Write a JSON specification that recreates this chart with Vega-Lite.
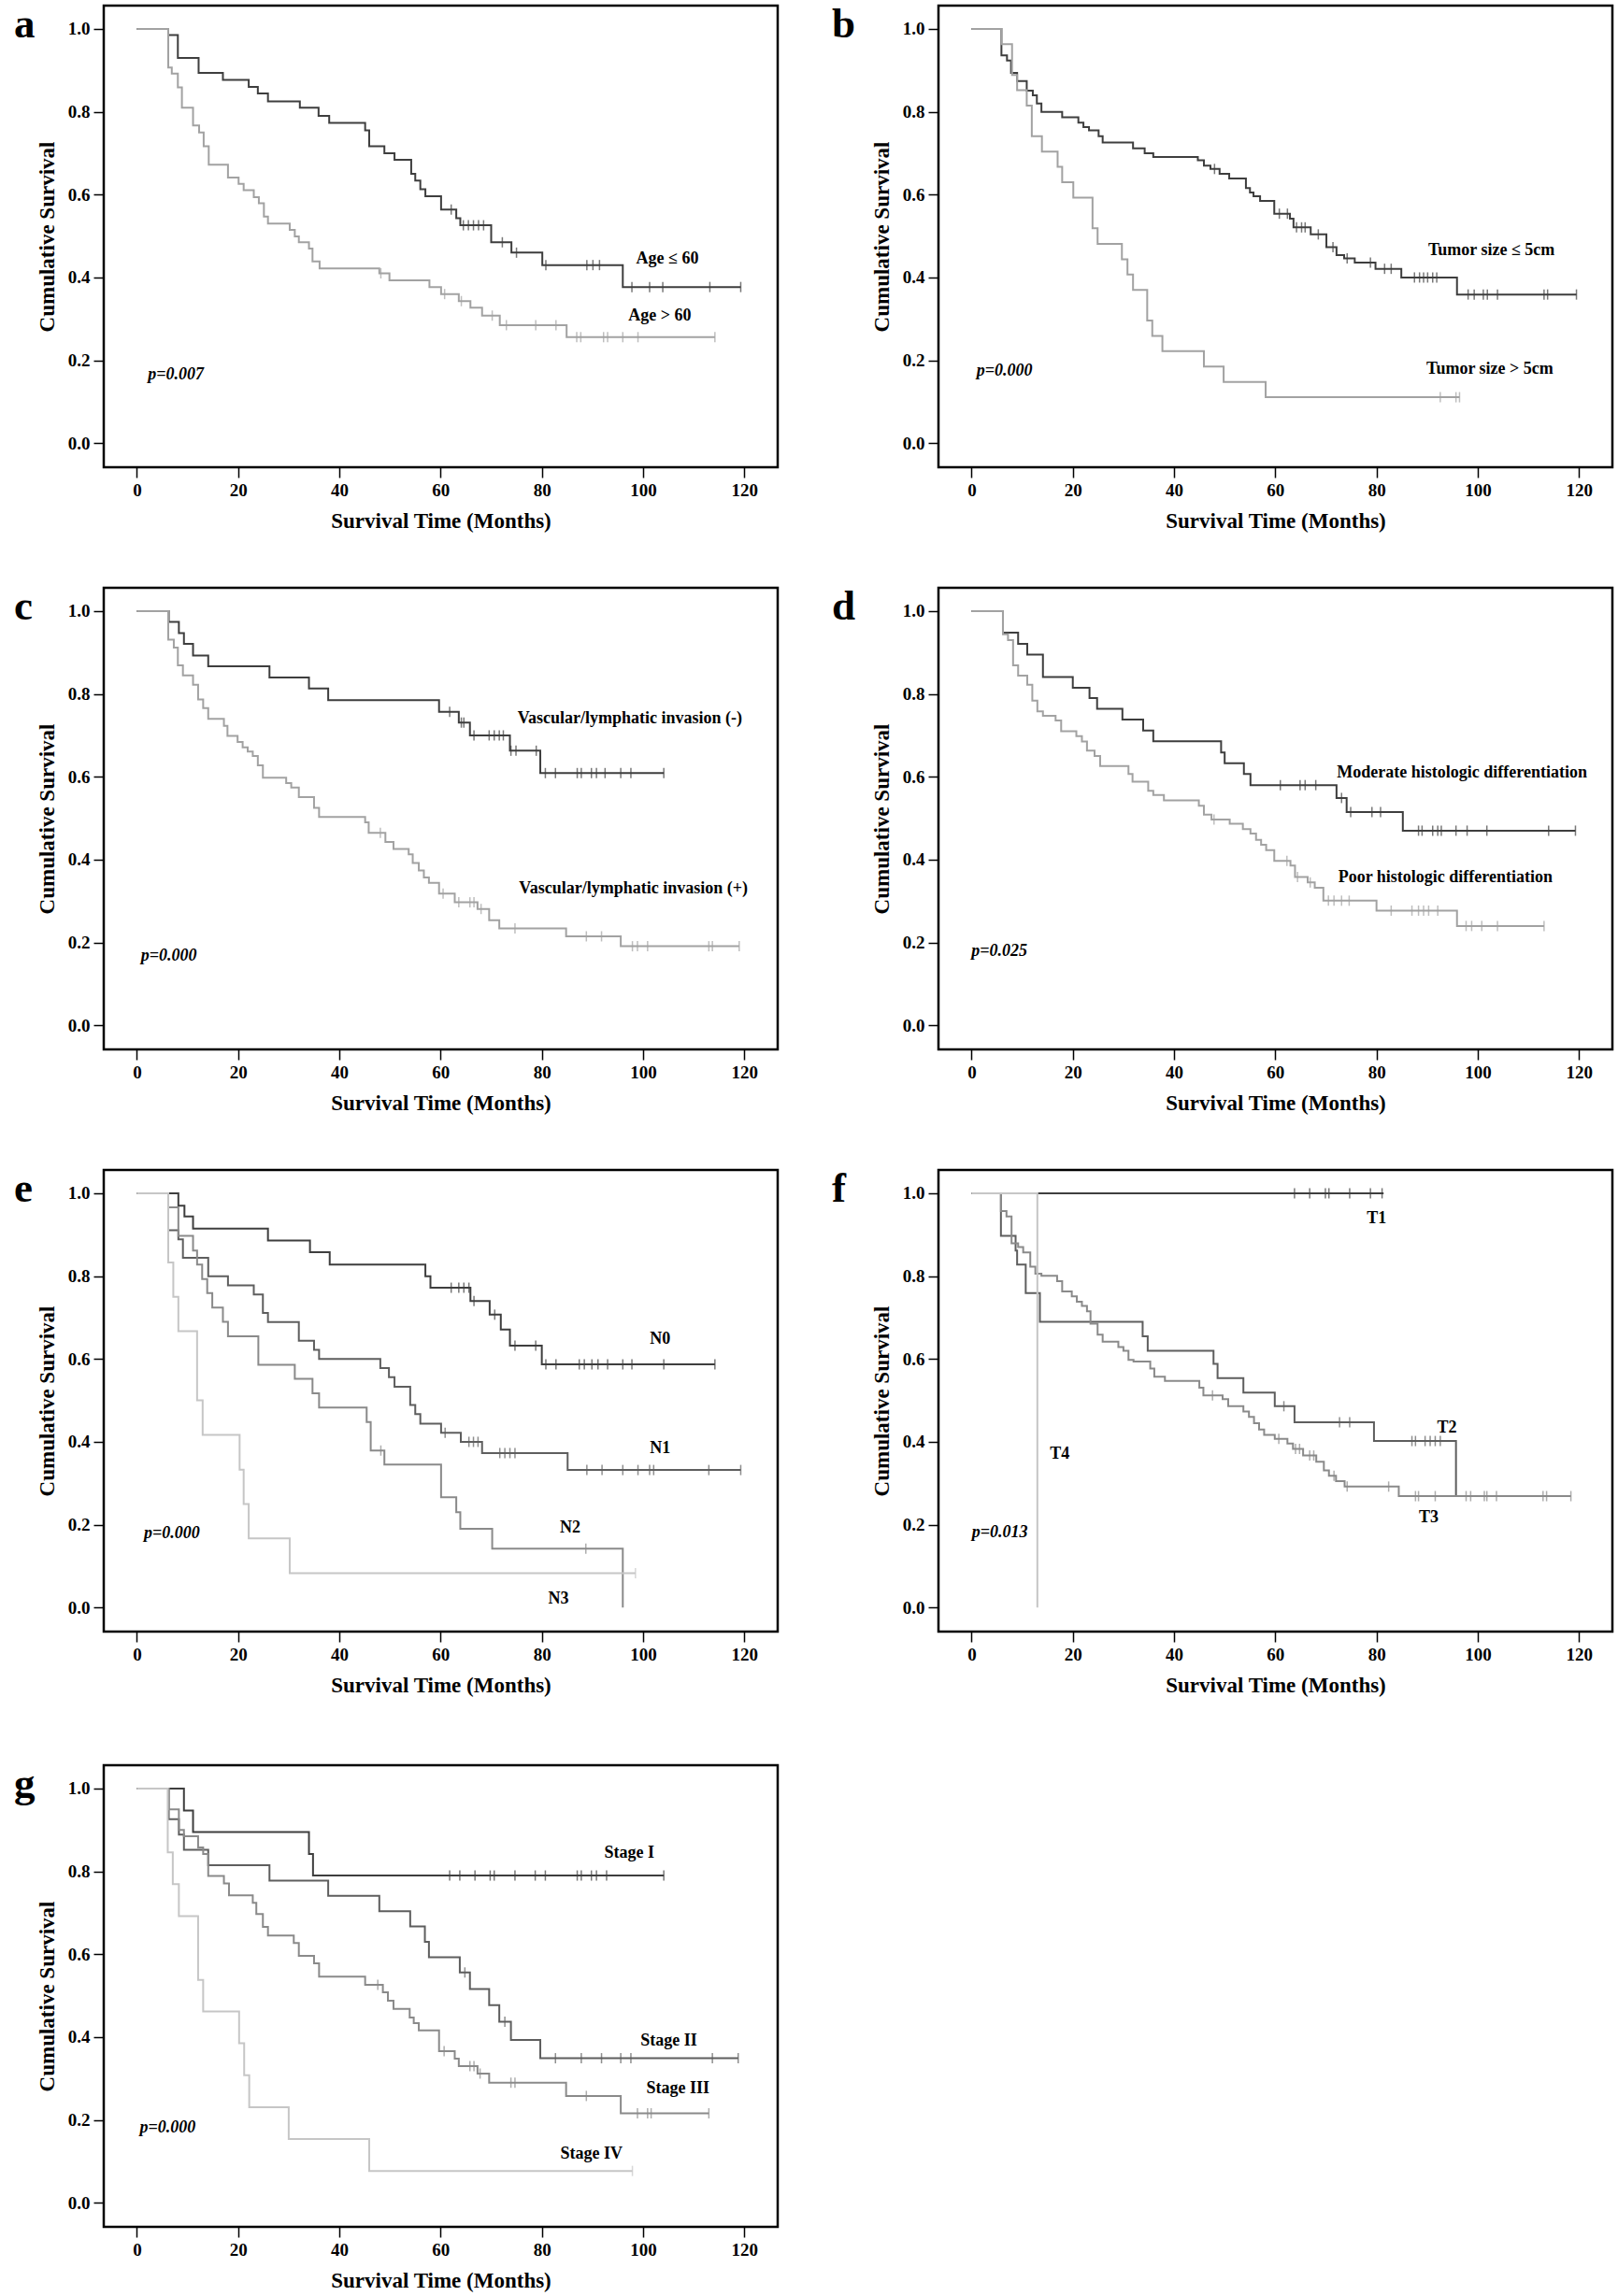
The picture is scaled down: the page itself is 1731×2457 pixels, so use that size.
{
"$schema": "https://vega.github.io/schema/vega-lite/v6.json",
"padding": {"left": 13, "top": 2, "right": 5, "bottom": 0},
"background": "white",
"datasets": {
"curves": [
{"g":"a1","t":0,"s":1},{"g":"a1","t":6.2,"s":0.985},{"g":"a1","t":8.1,"s":0.93},{"g":"a1","t":12.2,"s":0.894},{"g":"a1","t":17,"s":0.877},{"g":"a1","t":22.1,"s":0.86},{"g":"a1","t":23.9,"s":0.844},{"g":"a1","t":25.9,"s":0.825},{"g":"a1","t":32.2,"s":0.81},{"g":"a1","t":35.9,"s":0.79},{"g":"a1","t":38,"s":0.773},{"g":"a1","t":45.1,"s":0.755},{"g":"a1","t":45.9,"s":0.717},{"g":"a1","t":48.9,"s":0.7},{"g":"a1","t":50.9,"s":0.684},{"g":"a1","t":54.2,"s":0.65},{"g":"a1","t":55,"s":0.634},{"g":"a1","t":56,"s":0.613},{"g":"a1","t":57,"s":0.596},{"g":"a1","t":60.1,"s":0.564},{"g":"a1","t":63.1,"s":0.543},{"g":"a1","t":63.9,"s":0.526},{"g":"a1","t":70,"s":0.485},{"g":"a1","t":74,"s":0.46},{"g":"a1","t":80.1,"s":0.43},{"g":"a1","t":96,"s":0.377},{"g":"a1","t":119.3,"s":0.377},
{"g":"a2","t":0,"s":1},{"g":"a2","t":6.2,"s":0.907},{"g":"a2","t":6.9,"s":0.892},{"g":"a2","t":8.1,"s":0.859},{"g":"a2","t":8.9,"s":0.81},{"g":"a2","t":11.1,"s":0.767},{"g":"a2","t":12.3,"s":0.75},{"g":"a2","t":13.2,"s":0.717},{"g":"a2","t":14.2,"s":0.672},{"g":"a2","t":18,"s":0.641},{"g":"a2","t":20.1,"s":0.626},{"g":"a2","t":21.1,"s":0.611},{"g":"a2","t":23.1,"s":0.594},{"g":"a2","t":24.1,"s":0.579},{"g":"a2","t":25.1,"s":0.547},{"g":"a2","t":25.9,"s":0.53},{"g":"a2","t":30.2,"s":0.515},{"g":"a2","t":31.2,"s":0.499},{"g":"a2","t":32,"s":0.485},{"g":"a2","t":34,"s":0.47},{"g":"a2","t":34.7,"s":0.439},{"g":"a2","t":36.1,"s":0.422},{"g":"a2","t":47.9,"s":0.41},{"g":"a2","t":49.9,"s":0.393},{"g":"a2","t":57.8,"s":0.377},{"g":"a2","t":60.1,"s":0.36},{"g":"a2","t":63.6,"s":0.343},{"g":"a2","t":65.9,"s":0.327},{"g":"a2","t":68.2,"s":0.308},{"g":"a2","t":71.7,"s":0.285},{"g":"a2","t":84.9,"s":0.256},{"g":"a2","t":114.2,"s":0.256},
{"g":"b1","t":0,"s":1},{"g":"b1","t":5.9,"s":0.936},{"g":"b1","t":7,"s":0.924},{"g":"b1","t":7.8,"s":0.894},{"g":"b1","t":9,"s":0.874},{"g":"b1","t":10.9,"s":0.851},{"g":"b1","t":12.1,"s":0.84},{"g":"b1","t":12.9,"s":0.82},{"g":"b1","t":13.8,"s":0.8},{"g":"b1","t":17.9,"s":0.787},{"g":"b1","t":21.1,"s":0.774},{"g":"b1","t":22.1,"s":0.763},{"g":"b1","t":23.2,"s":0.755},{"g":"b1","t":25.1,"s":0.741},{"g":"b1","t":25.9,"s":0.726},{"g":"b1","t":31.9,"s":0.712},{"g":"b1","t":34.2,"s":0.7},{"g":"b1","t":35.9,"s":0.691},{"g":"b1","t":44.7,"s":0.683},{"g":"b1","t":45.9,"s":0.67},{"g":"b1","t":47.2,"s":0.662},{"g":"b1","t":49,"s":0.65},{"g":"b1","t":50.9,"s":0.639},{"g":"b1","t":54.2,"s":0.616},{"g":"b1","t":55,"s":0.605},{"g":"b1","t":55.7,"s":0.596},{"g":"b1","t":57,"s":0.585},{"g":"b1","t":59.8,"s":0.554},{"g":"b1","t":62.9,"s":0.542},{"g":"b1","t":63.6,"s":0.521},{"g":"b1","t":67,"s":0.504},{"g":"b1","t":70.1,"s":0.473},{"g":"b1","t":72.1,"s":0.454},{"g":"b1","t":73.6,"s":0.446},{"g":"b1","t":75.7,"s":0.436},{"g":"b1","t":79.8,"s":0.421},{"g":"b1","t":84.9,"s":0.4},{"g":"b1","t":95.9,"s":0.359},{"g":"b1","t":119.5,"s":0.359},
{"g":"b2","t":0,"s":1},{"g":"b2","t":5.9,"s":0.963},{"g":"b2","t":8,"s":0.889},{"g":"b2","t":9,"s":0.852},{"g":"b2","t":10.9,"s":0.815},{"g":"b2","t":11.9,"s":0.741},{"g":"b2","t":13.9,"s":0.704},{"g":"b2","t":17,"s":0.667},{"g":"b2","t":17.9,"s":0.63},{"g":"b2","t":20.1,"s":0.593},{"g":"b2","t":23.9,"s":0.519},{"g":"b2","t":24.9,"s":0.481},{"g":"b2","t":29.7,"s":0.444},{"g":"b2","t":30.8,"s":0.407},{"g":"b2","t":31.9,"s":0.37},{"g":"b2","t":34.7,"s":0.296},{"g":"b2","t":35.7,"s":0.259},{"g":"b2","t":37.7,"s":0.222},{"g":"b2","t":45.9,"s":0.185},{"g":"b2","t":49.8,"s":0.148},{"g":"b2","t":58.1,"s":0.111},{"g":"b2","t":96.4,"s":0.111},
{"g":"c1","t":0,"s":1},{"g":"c1","t":6.3,"s":0.974},{"g":"c1","t":8.3,"s":0.947},{"g":"c1","t":9.3,"s":0.921},{"g":"c1","t":11.1,"s":0.893},{"g":"c1","t":14.1,"s":0.867},{"g":"c1","t":26.2,"s":0.84},{"g":"c1","t":34,"s":0.813},{"g":"c1","t":37.8,"s":0.785},{"g":"c1","t":59.7,"s":0.757},{"g":"c1","t":63.6,"s":0.731},{"g":"c1","t":65.8,"s":0.7},{"g":"c1","t":73.7,"s":0.663},{"g":"c1","t":79.7,"s":0.609},{"g":"c1","t":104.1,"s":0.609},
{"g":"c2","t":0,"s":1},{"g":"c2","t":6.2,"s":0.931},{"g":"c2","t":7.3,"s":0.912},{"g":"c2","t":8.1,"s":0.869},{"g":"c2","t":9.1,"s":0.845},{"g":"c2","t":11.1,"s":0.822},{"g":"c2","t":12.1,"s":0.787},{"g":"c2","t":13.1,"s":0.766},{"g":"c2","t":14.1,"s":0.74},{"g":"c2","t":17.2,"s":0.723},{"g":"c2","t":17.9,"s":0.699},{"g":"c2","t":19.9,"s":0.684},{"g":"c2","t":20.9,"s":0.671},{"g":"c2","t":21.9,"s":0.661},{"g":"c2","t":22.9,"s":0.65},{"g":"c2","t":23.9,"s":0.628},{"g":"c2","t":24.9,"s":0.598},{"g":"c2","t":29.5,"s":0.585},{"g":"c2","t":30.5,"s":0.574},{"g":"c2","t":32,"s":0.551},{"g":"c2","t":35,"s":0.525},{"g":"c2","t":36,"s":0.503},{"g":"c2","t":45.1,"s":0.49},{"g":"c2","t":45.8,"s":0.465},{"g":"c2","t":49.1,"s":0.443},{"g":"c2","t":50.7,"s":0.426},{"g":"c2","t":53.7,"s":0.413},{"g":"c2","t":54.5,"s":0.392},{"g":"c2","t":55.7,"s":0.374},{"g":"c2","t":56.7,"s":0.357},{"g":"c2","t":57.7,"s":0.344},{"g":"c2","t":59.7,"s":0.318},{"g":"c2","t":62.8,"s":0.297},{"g":"c2","t":67.3,"s":0.281},{"g":"c2","t":69.6,"s":0.254},{"g":"c2","t":71.6,"s":0.234},{"g":"c2","t":84.8,"s":0.215},{"g":"c2","t":95.6,"s":0.191},{"g":"c2","t":119,"s":0.191},
{"g":"d1","t":0,"s":1},{"g":"d1","t":6.2,"s":0.948},{"g":"d1","t":9.2,"s":0.921},{"g":"d1","t":11,"s":0.895},{"g":"d1","t":14.1,"s":0.841},{"g":"d1","t":20,"s":0.815},{"g":"d1","t":23.3,"s":0.79},{"g":"d1","t":24.8,"s":0.764},{"g":"d1","t":29.8,"s":0.738},{"g":"d1","t":33.9,"s":0.712},{"g":"d1","t":35.9,"s":0.686},{"g":"d1","t":49.3,"s":0.659},{"g":"d1","t":50,"s":0.633},{"g":"d1","t":53.8,"s":0.607},{"g":"d1","t":55.1,"s":0.58},{"g":"d1","t":72.1,"s":0.549},{"g":"d1","t":74.1,"s":0.515},{"g":"d1","t":85.2,"s":0.47},{"g":"d1","t":119.3,"s":0.47},
{"g":"d2","t":0,"s":1},{"g":"d2","t":6.2,"s":0.944},{"g":"d2","t":7.2,"s":0.93},{"g":"d2","t":8.2,"s":0.869},{"g":"d2","t":9.2,"s":0.844},{"g":"d2","t":11,"s":0.822},{"g":"d2","t":12,"s":0.784},{"g":"d2","t":13,"s":0.758},{"g":"d2","t":14.1,"s":0.747},{"g":"d2","t":16.6,"s":0.736},{"g":"d2","t":17.7,"s":0.71},{"g":"d2","t":20.7,"s":0.698},{"g":"d2","t":21.8,"s":0.685},{"g":"d2","t":22.8,"s":0.663},{"g":"d2","t":24.3,"s":0.65},{"g":"d2","t":25.4,"s":0.626},{"g":"d2","t":31,"s":0.607},{"g":"d2","t":31.8,"s":0.588},{"g":"d2","t":34.9,"s":0.566},{"g":"d2","t":35.9,"s":0.556},{"g":"d2","t":38,"s":0.543},{"g":"d2","t":44.9,"s":0.53},{"g":"d2","t":45.9,"s":0.509},{"g":"d2","t":47.4,"s":0.497},{"g":"d2","t":51,"s":0.487},{"g":"d2","t":53.6,"s":0.474},{"g":"d2","t":55.1,"s":0.463},{"g":"d2","t":56.2,"s":0.448},{"g":"d2","t":57.2,"s":0.436},{"g":"d2","t":58.2,"s":0.423},{"g":"d2","t":59.8,"s":0.397},{"g":"d2","t":63,"s":0.386},{"g":"d2","t":63.9,"s":0.358},{"g":"d2","t":66.4,"s":0.345},{"g":"d2","t":67.8,"s":0.332},{"g":"d2","t":69.5,"s":0.301},{"g":"d2","t":80,"s":0.277},{"g":"d2","t":95.9,"s":0.24},{"g":"d2","t":113.1,"s":0.24},
{"g":"e1","t":0,"s":1},{"g":"e1","t":8.2,"s":0.97},{"g":"e1","t":9.4,"s":0.944},{"g":"e1","t":11.1,"s":0.915},{"g":"e1","t":25.9,"s":0.886},{"g":"e1","t":34.2,"s":0.858},{"g":"e1","t":38.1,"s":0.828},{"g":"e1","t":57,"s":0.8},{"g":"e1","t":58,"s":0.772},{"g":"e1","t":65.9,"s":0.74},{"g":"e1","t":69.7,"s":0.707},{"g":"e1","t":71.9,"s":0.671},{"g":"e1","t":73.7,"s":0.632},{"g":"e1","t":80,"s":0.587},{"g":"e1","t":114.2,"s":0.587},
{"g":"e2","t":0,"s":1},{"g":"e2","t":6.2,"s":0.911},{"g":"e2","t":8.2,"s":0.889},{"g":"e2","t":9.1,"s":0.844},{"g":"e2","t":14.1,"s":0.8},{"g":"e2","t":18,"s":0.778},{"g":"e2","t":23.1,"s":0.756},{"g":"e2","t":24.9,"s":0.711},{"g":"e2","t":25.9,"s":0.689},{"g":"e2","t":32,"s":0.644},{"g":"e2","t":35,"s":0.622},{"g":"e2","t":36,"s":0.6},{"g":"e2","t":48.1,"s":0.578},{"g":"e2","t":49.8,"s":0.556},{"g":"e2","t":50.9,"s":0.533},{"g":"e2","t":54,"s":0.489},{"g":"e2","t":55,"s":0.467},{"g":"e2","t":56,"s":0.444},{"g":"e2","t":60.1,"s":0.422},{"g":"e2","t":64,"s":0.4},{"g":"e2","t":68.2,"s":0.373},{"g":"e2","t":85.1,"s":0.332},{"g":"e2","t":119.3,"s":0.332},
{"g":"e3","t":0,"s":1},{"g":"e3","t":6.2,"s":0.966},{"g":"e3","t":8.2,"s":0.897},{"g":"e3","t":11.1,"s":0.862},{"g":"e3","t":11.9,"s":0.828},{"g":"e3","t":12.9,"s":0.793},{"g":"e3","t":13.9,"s":0.759},{"g":"e3","t":14.9,"s":0.724},{"g":"e3","t":17,"s":0.69},{"g":"e3","t":18,"s":0.655},{"g":"e3","t":24,"s":0.586},{"g":"e3","t":31.2,"s":0.552},{"g":"e3","t":34.7,"s":0.517},{"g":"e3","t":36,"s":0.483},{"g":"e3","t":45.4,"s":0.448},{"g":"e3","t":46.2,"s":0.379},{"g":"e3","t":48.9,"s":0.345},{"g":"e3","t":60.1,"s":0.266},{"g":"e3","t":63.1,"s":0.23},{"g":"e3","t":63.9,"s":0.19},{"g":"e3","t":70.2,"s":0.142},{"g":"e3","t":96,"s":0},
{"g":"e4","t":0,"s":1},{"g":"e4","t":6.2,"s":0.833},{"g":"e4","t":7.2,"s":0.75},{"g":"e4","t":8.2,"s":0.667},{"g":"e4","t":11.9,"s":0.5},{"g":"e4","t":13,"s":0.417},{"g":"e4","t":20.3,"s":0.333},{"g":"e4","t":21.1,"s":0.25},{"g":"e4","t":22.1,"s":0.167},{"g":"e4","t":30.2,"s":0.083},{"g":"e4","t":98.5,"s":0.083},
{"g":"f1","t":0,"s":1},{"g":"f1","t":81.4,"s":1},
{"g":"f2","t":0,"s":1},{"g":"f2","t":5.8,"s":0.897},{"g":"f2","t":8.7,"s":0.862},{"g":"f2","t":9,"s":0.828},{"g":"f2","t":10.7,"s":0.759},{"g":"f2","t":13.5,"s":0.69},{"g":"f2","t":33.8,"s":0.655},{"g":"f2","t":34.8,"s":0.62},{"g":"f2","t":47.8,"s":0.588},{"g":"f2","t":48.6,"s":0.554},{"g":"f2","t":53.7,"s":0.519},{"g":"f2","t":59.9,"s":0.486},{"g":"f2","t":63.8,"s":0.447},{"g":"f2","t":79.5,"s":0.402},{"g":"f2","t":95.7,"s":0.268},
{"g":"f3","t":0,"s":1},{"g":"f3","t":5.8,"s":0.957},{"g":"f3","t":6.9,"s":0.944},{"g":"f3","t":7.9,"s":0.879},{"g":"f3","t":9.2,"s":0.87},{"g":"f3","t":10.2,"s":0.857},{"g":"f3","t":11.6,"s":0.823},{"g":"f3","t":12.6,"s":0.806},{"g":"f3","t":13.8,"s":0.801},{"g":"f3","t":16.9,"s":0.788},{"g":"f3","t":17.9,"s":0.763},{"g":"f3","t":19.8,"s":0.751},{"g":"f3","t":20.8,"s":0.738},{"g":"f3","t":21.8,"s":0.728},{"g":"f3","t":22.8,"s":0.715},{"g":"f3","t":23.5,"s":0.685},{"g":"f3","t":24.9,"s":0.659},{"g":"f3","t":25.9,"s":0.642},{"g":"f3","t":29,"s":0.629},{"g":"f3","t":30,"s":0.62},{"g":"f3","t":31,"s":0.598},{"g":"f3","t":32,"s":0.594},{"g":"f3","t":35.3,"s":0.577},{"g":"f3","t":36.1,"s":0.557},{"g":"f3","t":38.2,"s":0.547},{"g":"f3","t":45,"s":0.531},{"g":"f3","t":45.8,"s":0.512},{"g":"f3","t":49.6,"s":0.503},{"g":"f3","t":50.7,"s":0.486},{"g":"f3","t":53.7,"s":0.473},{"g":"f3","t":54.8,"s":0.46},{"g":"f3","t":55.8,"s":0.445},{"g":"f3","t":56.8,"s":0.43},{"g":"f3","t":57.8,"s":0.417},{"g":"f3","t":59.9,"s":0.407},{"g":"f3","t":62.4,"s":0.396},{"g":"f3","t":63.5,"s":0.383},{"g":"f3","t":65.5,"s":0.367},{"g":"f3","t":68.1,"s":0.352},{"g":"f3","t":69.6,"s":0.331},{"g":"f3","t":70.6,"s":0.318},{"g":"f3","t":72,"s":0.305},{"g":"f3","t":73.7,"s":0.292},{"g":"f3","t":84.4,"s":0.269},{"g":"f3","t":118.4,"s":0.269},
{"g":"f4","t":0,"s":1},{"g":"f4","t":13,"s":0},
{"g":"g1","t":0,"s":1},{"g":"g1","t":9.3,"s":0.947},{"g":"g1","t":11.1,"s":0.895},{"g":"g1","t":34,"s":0.842},{"g":"g1","t":34.8,"s":0.79},{"g":"g1","t":104.1,"s":0.79},
{"g":"g2","t":0,"s":1},{"g":"g2","t":6.3,"s":0.926},{"g":"g2","t":8.3,"s":0.889},{"g":"g2","t":9.3,"s":0.852},{"g":"g2","t":14.1,"s":0.815},{"g":"g2","t":26.2,"s":0.778},{"g":"g2","t":37.8,"s":0.741},{"g":"g2","t":47.9,"s":0.704},{"g":"g2","t":54,"s":0.667},{"g":"g2","t":56.9,"s":0.63},{"g":"g2","t":57.7,"s":0.593},{"g":"g2","t":63.8,"s":0.556},{"g":"g2","t":65.8,"s":0.516},{"g":"g2","t":69.6,"s":0.477},{"g":"g2","t":71.6,"s":0.437},{"g":"g2","t":73.9,"s":0.393},{"g":"g2","t":79.7,"s":0.349},{"g":"g2","t":118.8,"s":0.349},
{"g":"g3","t":0,"s":1},{"g":"g3","t":6.3,"s":0.95},{"g":"g3","t":8.3,"s":0.9},{"g":"g3","t":9.3,"s":0.885},{"g":"g3","t":12.1,"s":0.858},{"g":"g3","t":13.1,"s":0.842},{"g":"g3","t":14.1,"s":0.789},{"g":"g3","t":17.2,"s":0.771},{"g":"g3","t":18.2,"s":0.742},{"g":"g3","t":22.9,"s":0.724},{"g":"g3","t":23.6,"s":0.697},{"g":"g3","t":24.9,"s":0.666},{"g":"g3","t":25.9,"s":0.645},{"g":"g3","t":31,"s":0.627},{"g":"g3","t":32,"s":0.596},{"g":"g3","t":35,"s":0.578},{"g":"g3","t":36,"s":0.546},{"g":"g3","t":45.1,"s":0.526},{"g":"g3","t":48.6,"s":0.508},{"g":"g3","t":49.6,"s":0.488},{"g":"g3","t":50.7,"s":0.468},{"g":"g3","t":53.9,"s":0.447},{"g":"g3","t":54.7,"s":0.434},{"g":"g3","t":55.7,"s":0.416},{"g":"g3","t":59.7,"s":0.366},{"g":"g3","t":62.8,"s":0.348},{"g":"g3","t":63.6,"s":0.33},{"g":"g3","t":67.3,"s":0.312},{"g":"g3","t":69.6,"s":0.29},{"g":"g3","t":84.8,"s":0.258},{"g":"g3","t":95.6,"s":0.216},{"g":"g3","t":113,"s":0.216},
{"g":"g4","t":0,"s":1},{"g":"g4","t":6.1,"s":0.846},{"g":"g4","t":7.1,"s":0.769},{"g":"g4","t":8.3,"s":0.692},{"g":"g4","t":12.1,"s":0.538},{"g":"g4","t":13.1,"s":0.462},{"g":"g4","t":20.2,"s":0.385},{"g":"g4","t":21.2,"s":0.308},{"g":"g4","t":22.2,"s":0.231},{"g":"g4","t":30,"s":0.154},{"g":"g4","t":45.9,"s":0.077},{"g":"g4","t":97.9,"s":0.077}
],
"cens": [
{"g":"a1","t":62.1,"s":0.564},{"g":"a1","t":64.5,"s":0.526},{"g":"a1","t":65.5,"s":0.526},{"g":"a1","t":66.5,"s":0.526},{"g":"a1","t":67.5,"s":0.526},{"g":"a1","t":68.5,"s":0.526},{"g":"a1","t":72.2,"s":0.485},{"g":"a1","t":75,"s":0.46},{"g":"a1","t":80.8,"s":0.43},{"g":"a1","t":88.9,"s":0.43},{"g":"a1","t":90.1,"s":0.43},{"g":"a1","t":91.4,"s":0.43},{"g":"a1","t":97.8,"s":0.377},{"g":"a1","t":101.3,"s":0.377},{"g":"a1","t":103.9,"s":0.377},{"g":"a1","t":113.2,"s":0.377},{"g":"a1","t":119.3,"s":0.377},
{"g":"a2","t":48.2,"s":0.41},{"g":"a2","t":60.8,"s":0.36},{"g":"a2","t":64.1,"s":0.343},{"g":"a2","t":70.2,"s":0.308},{"g":"a2","t":73,"s":0.285},{"g":"a2","t":78.8,"s":0.285},{"g":"a2","t":82.8,"s":0.285},{"g":"a2","t":86.9,"s":0.256},{"g":"a2","t":87.7,"s":0.256},{"g":"a2","t":92.2,"s":0.256},{"g":"a2","t":93,"s":0.256},{"g":"a2","t":96,"s":0.256},{"g":"a2","t":99,"s":0.256},{"g":"a2","t":114.2,"s":0.256},
{"g":"b1","t":48,"s":0.662},{"g":"b1","t":60.8,"s":0.554},{"g":"b1","t":62.4,"s":0.554},{"g":"b1","t":64.2,"s":0.521},{"g":"b1","t":65.2,"s":0.521},{"g":"b1","t":65.9,"s":0.521},{"g":"b1","t":68.5,"s":0.504},{"g":"b1","t":71.4,"s":0.473},{"g":"b1","t":74.2,"s":0.446},{"g":"b1","t":78.8,"s":0.436},{"g":"b1","t":81.6,"s":0.421},{"g":"b1","t":82.9,"s":0.421},{"g":"b1","t":87.5,"s":0.4},{"g":"b1","t":88.5,"s":0.4},{"g":"b1","t":89.3,"s":0.4},{"g":"b1","t":90.1,"s":0.4},{"g":"b1","t":91.1,"s":0.4},{"g":"b1","t":91.9,"s":0.4},{"g":"b1","t":98.1,"s":0.359},{"g":"b1","t":99.3,"s":0.359},{"g":"b1","t":101.1,"s":0.359},{"g":"b1","t":101.9,"s":0.359},{"g":"b1","t":103.9,"s":0.359},{"g":"b1","t":113.1,"s":0.359},{"g":"b1","t":113.8,"s":0.359},{"g":"b1","t":119.5,"s":0.359},
{"g":"b2","t":92.6,"s":0.111},{"g":"b2","t":95.7,"s":0.111},{"g":"b2","t":96.4,"s":0.111},
{"g":"c1","t":61.8,"s":0.757},{"g":"c1","t":64.1,"s":0.731},{"g":"c1","t":64.6,"s":0.731},{"g":"c1","t":66.6,"s":0.7},{"g":"c1","t":69.6,"s":0.7},{"g":"c1","t":70.6,"s":0.7},{"g":"c1","t":71.6,"s":0.7},{"g":"c1","t":72.4,"s":0.7},{"g":"c1","t":73.9,"s":0.663},{"g":"c1","t":74.9,"s":0.663},{"g":"c1","t":78.9,"s":0.663},{"g":"c1","t":80.7,"s":0.609},{"g":"c1","t":82.7,"s":0.609},{"g":"c1","t":87,"s":0.609},{"g":"c1","t":87.8,"s":0.609},{"g":"c1","t":89.8,"s":0.609},{"g":"c1","t":90.8,"s":0.609},{"g":"c1","t":92.5,"s":0.609},{"g":"c1","t":95.6,"s":0.609},{"g":"c1","t":97.6,"s":0.609},{"g":"c1","t":104.1,"s":0.609},
{"g":"c2","t":48.1,"s":0.465},{"g":"c2","t":60.5,"s":0.318},{"g":"c2","t":63.6,"s":0.297},{"g":"c2","t":65.8,"s":0.297},{"g":"c2","t":66.6,"s":0.297},{"g":"c2","t":68,"s":0.281},{"g":"c2","t":74.7,"s":0.234},{"g":"c2","t":88.8,"s":0.215},{"g":"c2","t":91.8,"s":0.215},{"g":"c2","t":97.9,"s":0.191},{"g":"c2","t":98.9,"s":0.191},{"g":"c2","t":100.9,"s":0.191},{"g":"c2","t":113,"s":0.191},{"g":"c2","t":113.7,"s":0.191},{"g":"c2","t":119,"s":0.191},
{"g":"d1","t":61,"s":0.58},{"g":"d1","t":64.9,"s":0.58},{"g":"d1","t":65.9,"s":0.58},{"g":"d1","t":68,"s":0.58},{"g":"d1","t":73.1,"s":0.549},{"g":"d1","t":74.9,"s":0.515},{"g":"d1","t":79.1,"s":0.515},{"g":"d1","t":80.8,"s":0.515},{"g":"d1","t":88.3,"s":0.47},{"g":"d1","t":89,"s":0.47},{"g":"d1","t":91.1,"s":0.47},{"g":"d1","t":92.1,"s":0.47},{"g":"d1","t":92.8,"s":0.47},{"g":"d1","t":95.7,"s":0.47},{"g":"d1","t":97.9,"s":0.47},{"g":"d1","t":101.8,"s":0.47},{"g":"d1","t":114,"s":0.47},{"g":"d1","t":119.3,"s":0.47},
{"g":"d2","t":47.9,"s":0.497},{"g":"d2","t":62.3,"s":0.397},{"g":"d2","t":64.4,"s":0.358},{"g":"d2","t":66.9,"s":0.345},{"g":"d2","t":70.5,"s":0.301},{"g":"d2","t":71.6,"s":0.301},{"g":"d2","t":73.1,"s":0.301},{"g":"d2","t":74.6,"s":0.301},{"g":"d2","t":82.9,"s":0.277},{"g":"d2","t":87,"s":0.277},{"g":"d2","t":88.3,"s":0.277},{"g":"d2","t":89.3,"s":0.277},{"g":"d2","t":90.3,"s":0.277},{"g":"d2","t":92.1,"s":0.277},{"g":"d2","t":97.7,"s":0.24},{"g":"d2","t":98.8,"s":0.24},{"g":"d2","t":100.8,"s":0.24},{"g":"d2","t":103.9,"s":0.24},{"g":"d2","t":113.1,"s":0.24},
{"g":"e1","t":62.1,"s":0.772},{"g":"e1","t":63.6,"s":0.772},{"g":"e1","t":64.6,"s":0.772},{"g":"e1","t":65.6,"s":0.772},{"g":"e1","t":66.6,"s":0.74},{"g":"e1","t":70.7,"s":0.707},{"g":"e1","t":74.7,"s":0.632},{"g":"e1","t":78.8,"s":0.632},{"g":"e1","t":80.8,"s":0.587},{"g":"e1","t":82.8,"s":0.587},{"g":"e1","t":87.4,"s":0.587},{"g":"e1","t":88.4,"s":0.587},{"g":"e1","t":89.9,"s":0.587},{"g":"e1","t":91.1,"s":0.587},{"g":"e1","t":93,"s":0.587},{"g":"e1","t":96,"s":0.587},{"g":"e1","t":97.8,"s":0.587},{"g":"e1","t":104.1,"s":0.587},{"g":"e1","t":114.2,"s":0.587},
{"g":"e2","t":60.9,"s":0.422},{"g":"e2","t":65.6,"s":0.4},{"g":"e2","t":66.5,"s":0.4},{"g":"e2","t":67.4,"s":0.4},{"g":"e2","t":71.7,"s":0.373},{"g":"e2","t":72.7,"s":0.373},{"g":"e2","t":73.7,"s":0.373},{"g":"e2","t":74.7,"s":0.373},{"g":"e2","t":88.9,"s":0.332},{"g":"e2","t":91.9,"s":0.332},{"g":"e2","t":96,"s":0.332},{"g":"e2","t":99,"s":0.332},{"g":"e2","t":101.3,"s":0.332},{"g":"e2","t":102.1,"s":0.332},{"g":"e2","t":113,"s":0.332},{"g":"e2","t":119.3,"s":0.332},
{"g":"e3","t":48.2,"s":0.379},{"g":"e3","t":88.7,"s":0.142},
{"g":"e4","t":98.5,"s":0.083},
{"g":"f1","t":63.8,"s":1},{"g":"f1","t":66.8,"s":1},{"g":"f1","t":69.9,"s":1},{"g":"f1","t":70.6,"s":1},{"g":"f1","t":74.7,"s":1},{"g":"f1","t":78.8,"s":1},{"g":"f1","t":81.1,"s":1},
{"g":"f2","t":61.7,"s":0.486},{"g":"f2","t":72.7,"s":0.447},{"g":"f2","t":74.7,"s":0.447},{"g":"f2","t":87,"s":0.402},{"g":"f2","t":87.7,"s":0.402},{"g":"f2","t":89.6,"s":0.402},{"g":"f2","t":90.6,"s":0.402},{"g":"f2","t":91.6,"s":0.402},{"g":"f2","t":92.6,"s":0.402},
{"g":"f3","t":47.6,"s":0.512},{"g":"f3","t":60.7,"s":0.407},{"g":"f3","t":64,"s":0.383},{"g":"f3","t":64.8,"s":0.383},{"g":"f3","t":66.8,"s":0.367},{"g":"f3","t":67.6,"s":0.367},{"g":"f3","t":71.6,"s":0.318},{"g":"f3","t":74.2,"s":0.292},{"g":"f3","t":82.4,"s":0.292},{"g":"f3","t":87.7,"s":0.269},{"g":"f3","t":88.3,"s":0.269},{"g":"f3","t":91.6,"s":0.269},{"g":"f3","t":97.7,"s":0.269},{"g":"f3","t":98.6,"s":0.269},{"g":"f3","t":101.3,"s":0.269},{"g":"f3","t":101.8,"s":0.269},{"g":"f3","t":103.7,"s":0.269},{"g":"f3","t":112.9,"s":0.269},{"g":"f3","t":113.6,"s":0.269},{"g":"f3","t":118.4,"s":0.269},
{"g":"g1","t":61.8,"s":0.79},{"g":"g1","t":63.8,"s":0.79},{"g":"g1","t":66.8,"s":0.79},{"g":"g1","t":69.8,"s":0.79},{"g":"g1","t":70.6,"s":0.79},{"g":"g1","t":74.7,"s":0.79},{"g":"g1","t":78.7,"s":0.79},{"g":"g1","t":80.7,"s":0.79},{"g":"g1","t":87,"s":0.79},{"g":"g1","t":87.8,"s":0.79},{"g":"g1","t":89.8,"s":0.79},{"g":"g1","t":90.8,"s":0.79},{"g":"g1","t":92.8,"s":0.79},{"g":"g1","t":104.1,"s":0.79},
{"g":"g2","t":64.8,"s":0.556},{"g":"g2","t":72.7,"s":0.437},{"g":"g2","t":82.7,"s":0.349},{"g":"g2","t":87.8,"s":0.349},{"g":"g2","t":91.8,"s":0.349},{"g":"g2","t":95.6,"s":0.349},{"g":"g2","t":97.6,"s":0.349},{"g":"g2","t":113.7,"s":0.349},{"g":"g2","t":118.8,"s":0.349},
{"g":"g3","t":47.6,"s":0.526},{"g":"g3","t":60.7,"s":0.366},{"g":"g3","t":65.8,"s":0.33},{"g":"g3","t":66.6,"s":0.33},{"g":"g3","t":67.8,"s":0.312},{"g":"g3","t":73.9,"s":0.29},{"g":"g3","t":74.7,"s":0.29},{"g":"g3","t":88.8,"s":0.258},{"g":"g3","t":98.9,"s":0.216},{"g":"g3","t":100.9,"s":0.216},{"g":"g3","t":101.6,"s":0.216},{"g":"g3","t":113,"s":0.216},
{"g":"g4","t":97.9,"s":0.077}
],
"labels": [
{"p":"a","txt":"Age ≤ 60","t":104.8,"s":0.446},{"p":"a","txt":"Age > 60","t":103.3,"s":0.308},
{"p":"b","txt":"Tumor size ≤ 5cm","t":102.7,"s":0.465},{"p":"b","txt":"Tumor size > 5cm","t":102.4,"s":0.179},
{"p":"c","txt":"Vascular/lymphatic invasion (-)","t":97.4,"s":0.74},{"p":"c","txt":"Vascular/lymphatic invasion (+)","t":98.1,"s":0.329},
{"p":"d","txt":"Moderate histologic differentiation","t":96.9,"s":0.609},{"p":"d","txt":"Poor histologic differentiation","t":93.6,"s":0.358},
{"p":"e","txt":"N0","t":103.4,"s":0.647},{"p":"e","txt":"N1","t":103.4,"s":0.384},{"p":"e","txt":"N2","t":85.6,"s":0.192},{"p":"e","txt":"N3","t":83.3,"s":0.02},
{"p":"f","txt":"T1","t":80,"s":0.94},{"p":"f","txt":"T2","t":93.9,"s":0.433},{"p":"f","txt":"T3","t":90.3,"s":0.217},{"p":"f","txt":"T4","t":17.4,"s":0.37},
{"p":"g","txt":"Stage I","t":97.3,"s":0.845},{"p":"g","txt":"Stage II","t":105.1,"s":0.392},{"p":"g","txt":"Stage III","t":106.9,"s":0.275},{"p":"g","txt":"Stage IV","t":89.8,"s":0.119}
],
"pvals": [
{"p":"a","txt":"p=0.007","t":7.7,"s":0.165},{"p":"b","txt":"p=0.000","t":6.5,"s":0.174},{"p":"c","txt":"p=0.000","t":6.3,"s":0.168},{"p":"d","txt":"p=0.025","t":5.5,"s":0.178},{"p":"e","txt":"p=0.000","t":6.9,"s":0.179},{"p":"f","txt":"p=0.013","t":5.6,"s":0.182},{"p":"g","txt":"p=0.000","t":6.1,"s":0.18}
]
},
"vconcat": [
{"vconcat": [
{"hconcat": [
{"width": 721, "height": 494,
 "title": {"text": "a", "anchor": "start", "frame": "group", "offset": 0, "dx": -96, "dy": 79, "baseline": "alphabetic", "fontSize": 45, "font": "Liberation Serif", "fontWeight": "bold", "color": "black"},
 "encoding": {"x": {"field": "t", "type": "quantitative", "title": "Survival Time (Months)", "scale": {"domain": [-6.54, 126.6], "nice": false, "zero": false}, "axis": {"values": [0,20,40,60,80,100,120], "format": "d"}},
  "y": {"field": "s", "type": "quantitative", "title": "Cumulative Survival", "scale": {"domain": [-0.058, 1.0563], "nice": false, "zero": false}, "axis": {"values": [0,0.2,0.4,0.6,0.8,1], "format": ".1f"}}},
 "layer": [
  {"data": {"name": "curves"}, "transform": [{"filter": "substring(datum.g,0,1) === 'a'"}], "mark": {"type": "line", "interpolate": "step-after", "strokeWidth": 2}, "encoding": {"color": {"field": "g", "type": "nominal", "legend": null, "scale": {"domain": ["a1","a2","b1","b2","c1","c2","d1","d2","e1","e2","e3","e4","f1","f2","f3","f4","g1","g2","g3","g4"], "range": ["#3e3e3e","#a2a2a2","#3e3e3e","#a2a2a2","#3e3e3e","#a2a2a2","#3e3e3e","#a2a2a2","#3e3e3e","#5e5e5e","#8a8a8a","#c6c6c6","#3e3e3e","#5e5e5e","#8a8a8a","#c6c6c6","#3e3e3e","#5e5e5e","#8a8a8a","#c6c6c6"]}}}},
  {"data": {"name": "cens"}, "transform": [{"filter": "substring(datum.g,0,1) === 'a'"}], "mark": {"type": "tick", "orient": "vertical", "size": 11, "thickness": 1.5}, "encoding": {"color": {"field": "g", "type": "nominal", "legend": null, "scale": {"domain": ["a1","a2","b1","b2","c1","c2","d1","d2","e1","e2","e3","e4","f1","f2","f3","f4","g1","g2","g3","g4"], "range": ["#3e3e3e","#a2a2a2","#3e3e3e","#a2a2a2","#3e3e3e","#a2a2a2","#3e3e3e","#a2a2a2","#3e3e3e","#5e5e5e","#8a8a8a","#c6c6c6","#3e3e3e","#5e5e5e","#8a8a8a","#c6c6c6","#3e3e3e","#5e5e5e","#8a8a8a","#c6c6c6"]}}}},
  {"data": {"name": "labels"}, "transform": [{"filter": "datum.p === 'a'"}], "mark": {"type": "text", "font": "Liberation Serif", "fontWeight": "bold", "fontSize": 18, "color": "black", "align": "center", "baseline": "middle"}, "encoding": {"text": {"field": "txt"}}},
  {"data": {"name": "pvals"}, "transform": [{"filter": "datum.p === 'a'"}], "mark": {"type": "text", "font": "Liberation Serif", "fontWeight": "bold", "fontStyle": "italic", "fontSize": 18, "color": "black", "align": "center", "baseline": "middle"}, "encoding": {"text": {"field": "txt"}}}
 ]},
{"width": 721, "height": 494,
 "title": {"text": "b", "anchor": "start", "frame": "group", "offset": 0, "dx": -114, "dy": 79, "baseline": "alphabetic", "fontSize": 45, "font": "Liberation Serif", "fontWeight": "bold", "color": "black"},
 "encoding": {"x": {"field": "t", "type": "quantitative", "title": "Survival Time (Months)", "scale": {"domain": [-6.54, 126.6], "nice": false, "zero": false}, "axis": {"values": [0,20,40,60,80,100,120], "format": "d"}},
  "y": {"field": "s", "type": "quantitative", "title": "Cumulative Survival", "scale": {"domain": [-0.058, 1.0563], "nice": false, "zero": false}, "axis": {"values": [0,0.2,0.4,0.6,0.8,1], "format": ".1f"}}},
 "layer": [
  {"data": {"name": "curves"}, "transform": [{"filter": "substring(datum.g,0,1) === 'b'"}], "mark": {"type": "line", "interpolate": "step-after", "strokeWidth": 2}, "encoding": {"color": {"field": "g", "type": "nominal", "legend": null, "scale": {"domain": ["a1","a2","b1","b2","c1","c2","d1","d2","e1","e2","e3","e4","f1","f2","f3","f4","g1","g2","g3","g4"], "range": ["#3e3e3e","#a2a2a2","#3e3e3e","#a2a2a2","#3e3e3e","#a2a2a2","#3e3e3e","#a2a2a2","#3e3e3e","#5e5e5e","#8a8a8a","#c6c6c6","#3e3e3e","#5e5e5e","#8a8a8a","#c6c6c6","#3e3e3e","#5e5e5e","#8a8a8a","#c6c6c6"]}}}},
  {"data": {"name": "cens"}, "transform": [{"filter": "substring(datum.g,0,1) === 'b'"}], "mark": {"type": "tick", "orient": "vertical", "size": 11, "thickness": 1.5}, "encoding": {"color": {"field": "g", "type": "nominal", "legend": null, "scale": {"domain": ["a1","a2","b1","b2","c1","c2","d1","d2","e1","e2","e3","e4","f1","f2","f3","f4","g1","g2","g3","g4"], "range": ["#3e3e3e","#a2a2a2","#3e3e3e","#a2a2a2","#3e3e3e","#a2a2a2","#3e3e3e","#a2a2a2","#3e3e3e","#5e5e5e","#8a8a8a","#c6c6c6","#3e3e3e","#5e5e5e","#8a8a8a","#c6c6c6","#3e3e3e","#5e5e5e","#8a8a8a","#c6c6c6"]}}}},
  {"data": {"name": "labels"}, "transform": [{"filter": "datum.p === 'b'"}], "mark": {"type": "text", "font": "Liberation Serif", "fontWeight": "bold", "fontSize": 18, "color": "black", "align": "center", "baseline": "middle"}, "encoding": {"text": {"field": "txt"}}},
  {"data": {"name": "pvals"}, "transform": [{"filter": "datum.p === 'b'"}], "mark": {"type": "text", "font": "Liberation Serif", "fontWeight": "bold", "fontStyle": "italic", "fontSize": 18, "color": "black", "align": "center", "baseline": "middle"}, "encoding": {"text": {"field": "txt"}}}
 ]}
], "spacing": 54},
{"hconcat": [
{"width": 721, "height": 494,
 "title": {"text": "c", "anchor": "start", "frame": "group", "offset": 0, "dx": -96, "dy": 79, "baseline": "alphabetic", "fontSize": 45, "font": "Liberation Serif", "fontWeight": "bold", "color": "black"},
 "encoding": {"x": {"field": "t", "type": "quantitative", "title": "Survival Time (Months)", "scale": {"domain": [-6.54, 126.6], "nice": false, "zero": false}, "axis": {"values": [0,20,40,60,80,100,120], "format": "d"}},
  "y": {"field": "s", "type": "quantitative", "title": "Cumulative Survival", "scale": {"domain": [-0.058, 1.0563], "nice": false, "zero": false}, "axis": {"values": [0,0.2,0.4,0.6,0.8,1], "format": ".1f"}}},
 "layer": [
  {"data": {"name": "curves"}, "transform": [{"filter": "substring(datum.g,0,1) === 'c'"}], "mark": {"type": "line", "interpolate": "step-after", "strokeWidth": 2}, "encoding": {"color": {"field": "g", "type": "nominal", "legend": null, "scale": {"domain": ["a1","a2","b1","b2","c1","c2","d1","d2","e1","e2","e3","e4","f1","f2","f3","f4","g1","g2","g3","g4"], "range": ["#3e3e3e","#a2a2a2","#3e3e3e","#a2a2a2","#3e3e3e","#a2a2a2","#3e3e3e","#a2a2a2","#3e3e3e","#5e5e5e","#8a8a8a","#c6c6c6","#3e3e3e","#5e5e5e","#8a8a8a","#c6c6c6","#3e3e3e","#5e5e5e","#8a8a8a","#c6c6c6"]}}}},
  {"data": {"name": "cens"}, "transform": [{"filter": "substring(datum.g,0,1) === 'c'"}], "mark": {"type": "tick", "orient": "vertical", "size": 11, "thickness": 1.5}, "encoding": {"color": {"field": "g", "type": "nominal", "legend": null, "scale": {"domain": ["a1","a2","b1","b2","c1","c2","d1","d2","e1","e2","e3","e4","f1","f2","f3","f4","g1","g2","g3","g4"], "range": ["#3e3e3e","#a2a2a2","#3e3e3e","#a2a2a2","#3e3e3e","#a2a2a2","#3e3e3e","#a2a2a2","#3e3e3e","#5e5e5e","#8a8a8a","#c6c6c6","#3e3e3e","#5e5e5e","#8a8a8a","#c6c6c6","#3e3e3e","#5e5e5e","#8a8a8a","#c6c6c6"]}}}},
  {"data": {"name": "labels"}, "transform": [{"filter": "datum.p === 'c'"}], "mark": {"type": "text", "font": "Liberation Serif", "fontWeight": "bold", "fontSize": 18, "color": "black", "align": "center", "baseline": "middle"}, "encoding": {"text": {"field": "txt"}}},
  {"data": {"name": "pvals"}, "transform": [{"filter": "datum.p === 'c'"}], "mark": {"type": "text", "font": "Liberation Serif", "fontWeight": "bold", "fontStyle": "italic", "fontSize": 18, "color": "black", "align": "center", "baseline": "middle"}, "encoding": {"text": {"field": "txt"}}}
 ]},
{"width": 721, "height": 494,
 "title": {"text": "d", "anchor": "start", "frame": "group", "offset": 0, "dx": -114, "dy": 79, "baseline": "alphabetic", "fontSize": 45, "font": "Liberation Serif", "fontWeight": "bold", "color": "black"},
 "encoding": {"x": {"field": "t", "type": "quantitative", "title": "Survival Time (Months)", "scale": {"domain": [-6.54, 126.6], "nice": false, "zero": false}, "axis": {"values": [0,20,40,60,80,100,120], "format": "d"}},
  "y": {"field": "s", "type": "quantitative", "title": "Cumulative Survival", "scale": {"domain": [-0.058, 1.0563], "nice": false, "zero": false}, "axis": {"values": [0,0.2,0.4,0.6,0.8,1], "format": ".1f"}}},
 "layer": [
  {"data": {"name": "curves"}, "transform": [{"filter": "substring(datum.g,0,1) === 'd'"}], "mark": {"type": "line", "interpolate": "step-after", "strokeWidth": 2}, "encoding": {"color": {"field": "g", "type": "nominal", "legend": null, "scale": {"domain": ["a1","a2","b1","b2","c1","c2","d1","d2","e1","e2","e3","e4","f1","f2","f3","f4","g1","g2","g3","g4"], "range": ["#3e3e3e","#a2a2a2","#3e3e3e","#a2a2a2","#3e3e3e","#a2a2a2","#3e3e3e","#a2a2a2","#3e3e3e","#5e5e5e","#8a8a8a","#c6c6c6","#3e3e3e","#5e5e5e","#8a8a8a","#c6c6c6","#3e3e3e","#5e5e5e","#8a8a8a","#c6c6c6"]}}}},
  {"data": {"name": "cens"}, "transform": [{"filter": "substring(datum.g,0,1) === 'd'"}], "mark": {"type": "tick", "orient": "vertical", "size": 11, "thickness": 1.5}, "encoding": {"color": {"field": "g", "type": "nominal", "legend": null, "scale": {"domain": ["a1","a2","b1","b2","c1","c2","d1","d2","e1","e2","e3","e4","f1","f2","f3","f4","g1","g2","g3","g4"], "range": ["#3e3e3e","#a2a2a2","#3e3e3e","#a2a2a2","#3e3e3e","#a2a2a2","#3e3e3e","#a2a2a2","#3e3e3e","#5e5e5e","#8a8a8a","#c6c6c6","#3e3e3e","#5e5e5e","#8a8a8a","#c6c6c6","#3e3e3e","#5e5e5e","#8a8a8a","#c6c6c6"]}}}},
  {"data": {"name": "labels"}, "transform": [{"filter": "datum.p === 'd'"}], "mark": {"type": "text", "font": "Liberation Serif", "fontWeight": "bold", "fontSize": 18, "color": "black", "align": "center", "baseline": "middle"}, "encoding": {"text": {"field": "txt"}}},
  {"data": {"name": "pvals"}, "transform": [{"filter": "datum.p === 'd'"}], "mark": {"type": "text", "font": "Liberation Serif", "fontWeight": "bold", "fontStyle": "italic", "fontSize": 18, "color": "black", "align": "center", "baseline": "middle"}, "encoding": {"text": {"field": "txt"}}}
 ]}
], "spacing": 54},
{"hconcat": [
{"width": 721, "height": 494,
 "title": {"text": "e", "anchor": "start", "frame": "group", "offset": 0, "dx": -96, "dy": 79, "baseline": "alphabetic", "fontSize": 45, "font": "Liberation Serif", "fontWeight": "bold", "color": "black"},
 "encoding": {"x": {"field": "t", "type": "quantitative", "title": "Survival Time (Months)", "scale": {"domain": [-6.54, 126.6], "nice": false, "zero": false}, "axis": {"values": [0,20,40,60,80,100,120], "format": "d"}},
  "y": {"field": "s", "type": "quantitative", "title": "Cumulative Survival", "scale": {"domain": [-0.058, 1.0563], "nice": false, "zero": false}, "axis": {"values": [0,0.2,0.4,0.6,0.8,1], "format": ".1f"}}},
 "layer": [
  {"data": {"name": "curves"}, "transform": [{"filter": "substring(datum.g,0,1) === 'e'"}], "mark": {"type": "line", "interpolate": "step-after", "strokeWidth": 2}, "encoding": {"color": {"field": "g", "type": "nominal", "legend": null, "scale": {"domain": ["a1","a2","b1","b2","c1","c2","d1","d2","e1","e2","e3","e4","f1","f2","f3","f4","g1","g2","g3","g4"], "range": ["#3e3e3e","#a2a2a2","#3e3e3e","#a2a2a2","#3e3e3e","#a2a2a2","#3e3e3e","#a2a2a2","#3e3e3e","#5e5e5e","#8a8a8a","#c6c6c6","#3e3e3e","#5e5e5e","#8a8a8a","#c6c6c6","#3e3e3e","#5e5e5e","#8a8a8a","#c6c6c6"]}}}},
  {"data": {"name": "cens"}, "transform": [{"filter": "substring(datum.g,0,1) === 'e'"}], "mark": {"type": "tick", "orient": "vertical", "size": 11, "thickness": 1.5}, "encoding": {"color": {"field": "g", "type": "nominal", "legend": null, "scale": {"domain": ["a1","a2","b1","b2","c1","c2","d1","d2","e1","e2","e3","e4","f1","f2","f3","f4","g1","g2","g3","g4"], "range": ["#3e3e3e","#a2a2a2","#3e3e3e","#a2a2a2","#3e3e3e","#a2a2a2","#3e3e3e","#a2a2a2","#3e3e3e","#5e5e5e","#8a8a8a","#c6c6c6","#3e3e3e","#5e5e5e","#8a8a8a","#c6c6c6","#3e3e3e","#5e5e5e","#8a8a8a","#c6c6c6"]}}}},
  {"data": {"name": "labels"}, "transform": [{"filter": "datum.p === 'e'"}], "mark": {"type": "text", "font": "Liberation Serif", "fontWeight": "bold", "fontSize": 18, "color": "black", "align": "center", "baseline": "middle"}, "encoding": {"text": {"field": "txt"}}},
  {"data": {"name": "pvals"}, "transform": [{"filter": "datum.p === 'e'"}], "mark": {"type": "text", "font": "Liberation Serif", "fontWeight": "bold", "fontStyle": "italic", "fontSize": 18, "color": "black", "align": "center", "baseline": "middle"}, "encoding": {"text": {"field": "txt"}}}
 ]},
{"width": 721, "height": 494,
 "title": {"text": "f", "anchor": "start", "frame": "group", "offset": 0, "dx": -114, "dy": 79, "baseline": "alphabetic", "fontSize": 45, "font": "Liberation Serif", "fontWeight": "bold", "color": "black"},
 "encoding": {"x": {"field": "t", "type": "quantitative", "title": "Survival Time (Months)", "scale": {"domain": [-6.54, 126.6], "nice": false, "zero": false}, "axis": {"values": [0,20,40,60,80,100,120], "format": "d"}},
  "y": {"field": "s", "type": "quantitative", "title": "Cumulative Survival", "scale": {"domain": [-0.058, 1.0563], "nice": false, "zero": false}, "axis": {"values": [0,0.2,0.4,0.6,0.8,1], "format": ".1f"}}},
 "layer": [
  {"data": {"name": "curves"}, "transform": [{"filter": "substring(datum.g,0,1) === 'f'"}], "mark": {"type": "line", "interpolate": "step-after", "strokeWidth": 2}, "encoding": {"color": {"field": "g", "type": "nominal", "legend": null, "scale": {"domain": ["a1","a2","b1","b2","c1","c2","d1","d2","e1","e2","e3","e4","f1","f2","f3","f4","g1","g2","g3","g4"], "range": ["#3e3e3e","#a2a2a2","#3e3e3e","#a2a2a2","#3e3e3e","#a2a2a2","#3e3e3e","#a2a2a2","#3e3e3e","#5e5e5e","#8a8a8a","#c6c6c6","#3e3e3e","#5e5e5e","#8a8a8a","#c6c6c6","#3e3e3e","#5e5e5e","#8a8a8a","#c6c6c6"]}}}},
  {"data": {"name": "cens"}, "transform": [{"filter": "substring(datum.g,0,1) === 'f'"}], "mark": {"type": "tick", "orient": "vertical", "size": 11, "thickness": 1.5}, "encoding": {"color": {"field": "g", "type": "nominal", "legend": null, "scale": {"domain": ["a1","a2","b1","b2","c1","c2","d1","d2","e1","e2","e3","e4","f1","f2","f3","f4","g1","g2","g3","g4"], "range": ["#3e3e3e","#a2a2a2","#3e3e3e","#a2a2a2","#3e3e3e","#a2a2a2","#3e3e3e","#a2a2a2","#3e3e3e","#5e5e5e","#8a8a8a","#c6c6c6","#3e3e3e","#5e5e5e","#8a8a8a","#c6c6c6","#3e3e3e","#5e5e5e","#8a8a8a","#c6c6c6"]}}}},
  {"data": {"name": "labels"}, "transform": [{"filter": "datum.p === 'f'"}], "mark": {"type": "text", "font": "Liberation Serif", "fontWeight": "bold", "fontSize": 18, "color": "black", "align": "center", "baseline": "middle"}, "encoding": {"text": {"field": "txt"}}},
  {"data": {"name": "pvals"}, "transform": [{"filter": "datum.p === 'f'"}], "mark": {"type": "text", "font": "Liberation Serif", "fontWeight": "bold", "fontStyle": "italic", "fontSize": 18, "color": "black", "align": "center", "baseline": "middle"}, "encoding": {"text": {"field": "txt"}}}
 ]}
], "spacing": 54}
], "spacing": 54},
{"width": 721, "height": 494,
 "title": {"text": "g", "anchor": "start", "frame": "group", "offset": 0, "dx": -96, "dy": 79, "baseline": "alphabetic", "fontSize": 45, "font": "Liberation Serif", "fontWeight": "bold", "color": "black"},
 "encoding": {"x": {"field": "t", "type": "quantitative", "title": "Survival Time (Months)", "scale": {"domain": [-6.54, 126.6], "nice": false, "zero": false}, "axis": {"values": [0,20,40,60,80,100,120], "format": "d"}},
  "y": {"field": "s", "type": "quantitative", "title": "Cumulative Survival", "scale": {"domain": [-0.058, 1.0563], "nice": false, "zero": false}, "axis": {"values": [0,0.2,0.4,0.6,0.8,1], "format": ".1f"}}},
 "layer": [
  {"data": {"name": "curves"}, "transform": [{"filter": "substring(datum.g,0,1) === 'g'"}], "mark": {"type": "line", "interpolate": "step-after", "strokeWidth": 2}, "encoding": {"color": {"field": "g", "type": "nominal", "legend": null, "scale": {"domain": ["a1","a2","b1","b2","c1","c2","d1","d2","e1","e2","e3","e4","f1","f2","f3","f4","g1","g2","g3","g4"], "range": ["#3e3e3e","#a2a2a2","#3e3e3e","#a2a2a2","#3e3e3e","#a2a2a2","#3e3e3e","#a2a2a2","#3e3e3e","#5e5e5e","#8a8a8a","#c6c6c6","#3e3e3e","#5e5e5e","#8a8a8a","#c6c6c6","#3e3e3e","#5e5e5e","#8a8a8a","#c6c6c6"]}}}},
  {"data": {"name": "cens"}, "transform": [{"filter": "substring(datum.g,0,1) === 'g'"}], "mark": {"type": "tick", "orient": "vertical", "size": 11, "thickness": 1.5}, "encoding": {"color": {"field": "g", "type": "nominal", "legend": null, "scale": {"domain": ["a1","a2","b1","b2","c1","c2","d1","d2","e1","e2","e3","e4","f1","f2","f3","f4","g1","g2","g3","g4"], "range": ["#3e3e3e","#a2a2a2","#3e3e3e","#a2a2a2","#3e3e3e","#a2a2a2","#3e3e3e","#a2a2a2","#3e3e3e","#5e5e5e","#8a8a8a","#c6c6c6","#3e3e3e","#5e5e5e","#8a8a8a","#c6c6c6","#3e3e3e","#5e5e5e","#8a8a8a","#c6c6c6"]}}}},
  {"data": {"name": "labels"}, "transform": [{"filter": "datum.p === 'g'"}], "mark": {"type": "text", "font": "Liberation Serif", "fontWeight": "bold", "fontSize": 18, "color": "black", "align": "center", "baseline": "middle"}, "encoding": {"text": {"field": "txt"}}},
  {"data": {"name": "pvals"}, "transform": [{"filter": "datum.p === 'g'"}], "mark": {"type": "text", "font": "Liberation Serif", "fontWeight": "bold", "fontStyle": "italic", "fontSize": 18, "color": "black", "align": "center", "baseline": "middle"}, "encoding": {"text": {"field": "txt"}}}
 ]}
],
"spacing": 68,
"config": {
 "view": {"stroke": "black", "strokeWidth": 2.5, "fill": "white"},
 "font": "Liberation Serif",
 "axis": {"grid": false, "domain": false, "ticks": true, "tickColor": "black", "tickSize": 11, "tickWidth": 1.5, "labelFont": "Liberation Serif", "labelFontSize": 19, "labelFontWeight": "bold", "labelColor": "black", "titleFont": "Liberation Serif", "titleFontSize": 23, "titleFontWeight": "bold", "titleColor": "black"},
 "axisX": {"labelPadding": 4, "titlePadding": 12},
 "axisY": {"labelPadding": 4, "titlePadding": 10}
}
}
